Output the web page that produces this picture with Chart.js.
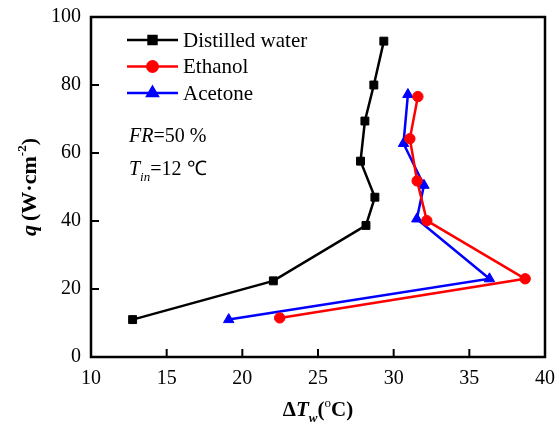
<!DOCTYPE html>
<html>
<head>
<meta charset="utf-8">
<script src="https://cdn.jsdelivr.net/npm/chart.js@4"></script>
<style>
html,body{margin:0;padding:0;background:#fff;}
#wrap{width:555px;height:425px;position:relative;}
</style>
</head>
<body>
<div id="wrap"><canvas id="c" width="555" height="425"></canvas></div>
<script>
const seriesNames = ["Distilled water", "Ethanol", "Acetone"];
const waterDT = [12.75, 22.05, 28.17, 28.76, 27.81, 28.10, 28.69, 29.35];
const waterQ  = [11.0, 22.4, 38.7, 47.0, 57.6, 69.4, 80.0, 92.9];
const ethanolDT = [22.47, 38.69, 32.19, 31.55, 31.07, 31.60];
const ethanolQ  = [11.5, 23.0, 40.1, 51.8, 64.2, 76.6];
const acetoneDT = [19.10, 36.33, 31.53, 32.00, 30.65, 30.94];
const acetoneQ  = [11.0, 23.0, 40.6, 50.5, 62.8, 77.2];
const xTicks = [10, 15, 20, 25, 30, 35, 40];
const yTicks = [0, 20, 40, 60, 80, 100];

const FONT = "'Liberation Serif', 'Times New Roman', serif";

function pts(xs, ys){ return xs.map((x,i)=>({x:x, y:ys[i]})); }

const colors = ['#000000', '#ff0000', '#0000ff'];
const shapes = ['rect', 'circle', 'triangle'];
const radii = [5.6, 5.2, 6];

const datasets = [
  {label: seriesNames[0], data: pts(waterDT, waterQ)},
  {label: seriesNames[1], data: pts(ethanolDT, ethanolQ)},
  {label: seriesNames[2], data: pts(acetoneDT, acetoneQ)}
].map((d,i)=>Object.assign(d, {
  showLine: true,
  borderColor: colors[i],
  backgroundColor: colors[i],
  pointBackgroundColor: colors[i],
  pointBorderColor: colors[i],
  borderWidth: 2.5,
  pointStyle: shapes[i],
  pointRadius: radii[i],
  pointBorderWidth: 1,
  tension: 0
}));

function drawRich(ctx, parts, x, y){
  let cx = x;
  for (const p of parts){
    ctx.font = p.font;
    ctx.fillText(p.t, cx, y + (p.dy||0));
    cx += ctx.measureText(p.t).width + (p.sp||0);
  }
  return cx - x;
}
function richWidth(ctx, parts){
  let w = 0;
  for (const p of parts){ ctx.font = p.font; w += ctx.measureText(p.t).width + (p.sp||0); }
  return w;
}

const decor = {
  id: 'decor',
  afterDraw(chart){
    const ctx = chart.ctx;
    const a = chart.chartArea;
    const xs = chart.scales.x, ys = chart.scales.y;
    ctx.save();
    ctx.strokeStyle = '#000';
    ctx.lineWidth = 2.5;
    ctx.strokeRect(a.left, a.top, a.right - a.left, a.bottom - a.top);
    ctx.lineWidth = 2;
    ctx.beginPath();
    for (const v of xTicks){
      const px = xs.getPixelForValue(v);
      ctx.moveTo(px, a.bottom); ctx.lineTo(px, a.bottom - 8);
    }
    for (const v of yTicks){
      const py = ys.getPixelForValue(v);
      ctx.moveTo(a.left, py); ctx.lineTo(a.left + 8, py);
    }
    ctx.stroke();

    // legend
    ctx.fillStyle = '#000';
    ctx.textBaseline = 'middle';
    const ly = [40, 66.5, 93];
    chart.data.datasets.forEach((ds, i)=>{
      const y = ly[i];
      ctx.strokeStyle = ds.borderColor;
      ctx.lineWidth = 2.5;
      ctx.beginPath(); ctx.moveTo(127, y); ctx.lineTo(178, y); ctx.stroke();
      Chart.helpers.drawPoint(ctx, {pointStyle: ds.pointStyle, radius: ds.pointRadius, borderWidth: 1}, 152.5, y);
      ctx.fillStyle = ds.borderColor;
      ctx.fill();
      ctx.fillStyle = '#000';
      ctx.font = "21px " + FONT;
      ctx.textAlign = 'left';
      ctx.fillText(ds.label, 183, y + 1);
    });

    // annotations
    ctx.textBaseline = 'alphabetic';
    ctx.textAlign = 'left';
    drawRich(ctx, [
      {t: 'FR', font: "italic 20px " + FONT},
      {t: '=50 %', font: "20px " + FONT}
    ], 129, 142);
    drawRich(ctx, [
      {t: 'T', font: "italic 20px " + FONT},
      {t: 'in', font: "italic 13px " + FONT, dy: 6},
      {t: '=12 \u2103', font: "20px " + FONT}
    ], 129, 175);

    // x axis title
    const xParts = [
      {t: '\u0394', font: "bold 21px " + FONT},
      {t: 'T', font: "bold italic 21px " + FONT},
      {t: 'w', font: "bold italic 13px " + FONT, dy: 6},
      {t: '(', font: "bold 21px " + FONT},
      {t: 'o', font: "13px " + FONT, dy: -9},
      {t: 'C)', font: "bold 21px " + FONT}
    ];
    const xw = richWidth(ctx, xParts);
    const xc = (a.left + a.right) / 2;
    drawRich(ctx, xParts, xc - xw/2, 416);

    // y axis title
    const yParts = [
      {t: 'q', font: "bold italic 22px " + FONT, sp: 4},
      {t: '(W\u00B7cm', font: "bold 22px " + FONT},
      {t: '-2', font: "bold 13px " + FONT, dy: -10},
      {t: ')', font: "bold 22px " + FONT}
    ];
    const yw = richWidth(ctx, yParts);
    const yc = (a.top + a.bottom) / 2;
    ctx.translate(36, yc);
    ctx.rotate(-Math.PI/2);
    drawRich(ctx, yParts, -yw/2, 0);
    ctx.restore();
  }
};

new Chart(document.getElementById('c'), {
  type: 'scatter',
  data: {datasets},
  options: {
    responsive: false,
    animation: false,
    devicePixelRatio: 1,
    layout: {padding: {top: 17, right: 10, left: 0, bottom: 0}},
    plugins: {legend: {display: false}, tooltip: {enabled: false}},
    scales: {
      x: {
        type: 'linear', min: 10, max: 40,
        afterBuildTicks: s => { s.ticks = xTicks.map(v=>({value:v})); },
        afterFit: s => { s.height = 68; s.paddingLeft = 0; s.paddingRight = 0; },
        grid: {display: false, drawTicks: false},
        border: {display: false},
        ticks: {color: '#000', font: {family: FONT, size: 20}, padding: 10, maxRotation: 0, autoSkip: false}
      },
      y: {
        type: 'linear', min: 0, max: 100,
        afterBuildTicks: s => { s.ticks = yTicks.map(v=>({value:v})); },
        afterFit: s => { s.width = 91; s.paddingTop = 0; s.paddingBottom = 0; },
        grid: {display: false, drawTicks: false},
        border: {display: false},
        ticks: {color: '#000', font: {family: FONT, size: 20}, padding: 10, autoSkip: false}
      }
    }
  },
  plugins: [decor]
});
</script>
</body>
</html>
